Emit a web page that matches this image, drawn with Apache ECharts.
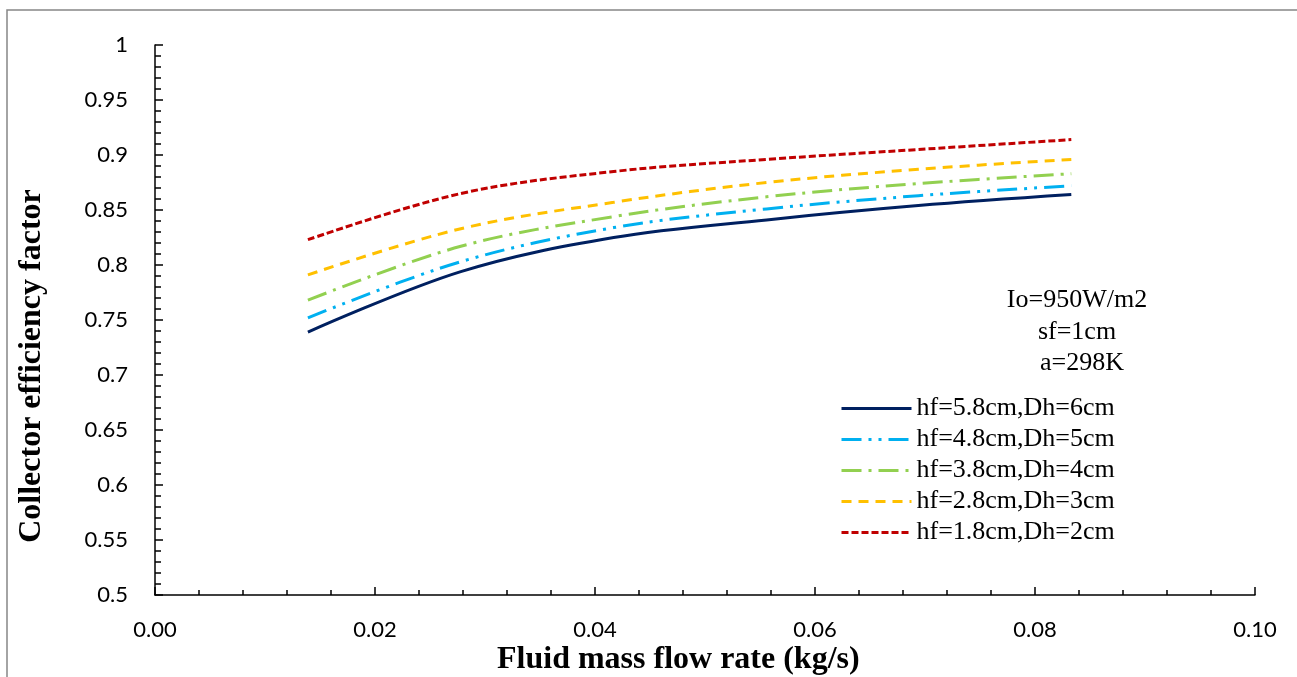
<!DOCTYPE html>
<html>
<head>
<meta charset="utf-8">
<script src="https://cdn.jsdelivr.net/npm/echarts@6/dist/echarts.min.js"></script>
<style>html,body{margin:0;padding:0;background:#fff;}#c{width:1297px;height:677px;}</style>
</head>
<body>
<div id="c"></div>
<script>
// Fluid mass flow rate (kg/s)
const flowRate = [0.0139, 0.0278, 0.0417, 0.0556, 0.0694, 0.0833];
const seriesNames = ['hf=5.8cm,Dh=6cm', 'hf=4.8cm,Dh=5cm', 'hf=3.8cm,Dh=4cm', 'hf=2.8cm,Dh=3cm', 'hf=1.8cm,Dh=2cm'];
const eff58 = [0.739, 0.794, 0.825, 0.841, 0.854, 0.864];
const eff48 = [0.752, 0.803, 0.834, 0.851, 0.863, 0.872];
const eff38 = [0.768, 0.817, 0.844, 0.862, 0.874, 0.883];
const eff28 = [0.791, 0.833, 0.857, 0.875, 0.887, 0.896];
const eff18 = [0.823, 0.865, 0.885, 0.896, 0.905, 0.914];
const xTickLabels = ['0.00', '0.02', '0.04', '0.06', '0.08', '0.10'];
const yTickLabels = ['0.5', '0.55', '0.6', '0.65', '0.7', '0.75', '0.8', '0.85', '0.9', '0.95', '1'];
const annotation = ['Io=950W/m2', 'sf=1cm', 'a=298K'];

const colors = ['#002060', '#00B0F0', '#92D050', '#FFC000', '#C00000'];
const dashes = ['solid', [20, 7, 3, 7, 3, 7], [20, 7, 3, 7], [10, 7], [7, 3]];
const allData = [eff58, eff48, eff38, eff28, eff18];

const chart = echarts.init(document.getElementById('c'));
const serif = '"Liberation Serif", "Times New Roman", serif';
const sans = 'Lato, "Open Sans", sans-serif';

chart.setOption({
  animation: false,
  backgroundColor: '#fff',
  grid: { left: 155, right: 42, top: 45, bottom: 82, containLabel: false },
  legend: {
    orient: 'vertical', left: 840, top: 393, padding: 0, itemGap: 0,
    itemWidth: 70, itemHeight: 10,
    data: seriesNames,
    itemStyle: { opacity: 0 },
    lineStyle: { width: 3 },
    textStyle: { fontFamily: serif, fontSize: 26, color: '#000', lineHeight: 31 }
  },
  xAxis: {
    type: 'value', min: 0, max: 0.1, interval: 0.02,
    axisLine: { lineStyle: { color: '#000', width: 1.5 } },
    axisTick: { inside: true, length: 8, lineStyle: { color: '#000', width: 1.5 } },
    minorTick: { show: true, splitNumber: 5, length: 5, lineStyle: { color: '#000', width: 1.5 } },
    splitLine: { show: false },
    axisLabel: {
      margin: 24, fontFamily: sans, fontSize: 22, color: '#000',
      formatter: v => xTickLabels[Math.round(v / 0.02)]
    }
  },
  yAxis: {
    type: 'value', min: 0.5, max: 1, interval: 0.05,
    axisLine: { show: true, lineStyle: { color: '#000', width: 1.5 } },
    axisTick: { show: true, inside: true, length: 8, lineStyle: { color: '#000', width: 1.5 } },
    minorTick: { show: true, splitNumber: 5, length: 6, lineStyle: { color: '#000', width: 1.5 } },
    splitLine: { show: false },
    axisLabel: {
      margin: 27, fontFamily: sans, fontSize: 22, color: '#000',
      formatter: v => yTickLabels[Math.round((v - 0.5) / 0.05)]
    }
  },
  series: seriesNames.map((n, i) => ({
    name: n, type: 'line', symbol: 'none', smooth: 0.35,
    data: flowRate.map((x, j) => [x, allData[i][j]]),
    lineStyle: { color: colors[i], width: 3, type: dashes[i] },
    itemStyle: { color: colors[i] }
  })),
  graphic: [
    { type: 'rect', silent: true, shape: { x: 7, y: 10, width: 1400, height: 800 }, style: { fill: 'none', stroke: '#868686', lineWidth: 1.5 } },
    { type: 'text', x: 1077, y: 300, style: { text: annotation[0], font: '26px ' + serif, fill: '#000', align: 'center', verticalAlign: 'middle' } },
    { type: 'text', x: 1077, y: 332, style: { text: annotation[1], font: '26px ' + serif, fill: '#000', align: 'center', verticalAlign: 'middle' } },
    { type: 'text', x: 1082, y: 363, style: { text: annotation[2], font: '26px ' + serif, fill: '#000', align: 'center', verticalAlign: 'middle' } },
    { type: 'text', x: 497, y: 660, style: { text: 'Fluid mass flow rate (kg/s)', font: 'bold 32px ' + serif, fill: '#000', align: 'left', verticalAlign: 'middle' } },
    { type: 'text', x: 32, y: 366, rotation: Math.PI / 2, style: { text: 'Collector efficiency factor', font: 'bold 32px ' + serif, fill: '#000', align: 'center', verticalAlign: 'middle' } }
  ]
});
</script>
</body>
</html>
